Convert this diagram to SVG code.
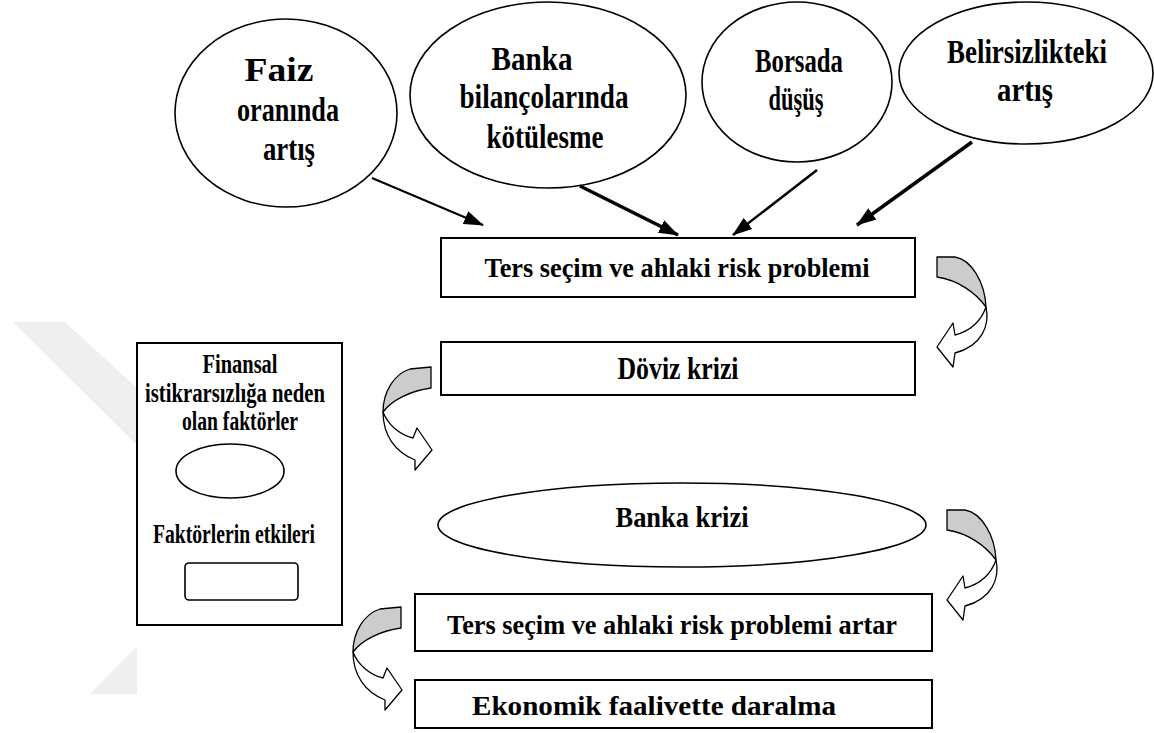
<svg xmlns="http://www.w3.org/2000/svg" xmlns:xlink="http://www.w3.org/1999/xlink" width="1154" height="733" viewBox="0 0 1154 733">
<style>
.t{font-family:"Liberation Serif","Times New Roman",serif;font-weight:bold;fill:#000;text-anchor:middle}
.top{font-size:34px}
.shape{fill:#fff;stroke:#000;stroke-width:1.6}
.box{fill:#fff;stroke:#000;stroke-width:2}
.cg{fill:#cccccc;stroke:#000;stroke-width:1.3;stroke-linejoin:round}
.cw{fill:#fff;stroke:#000;stroke-width:1.3;stroke-linejoin:round}
.arr{stroke:#000;fill:none;marker-end:url(#ah)}
.wm{fill:#efefef}
</style>
<defs>
<marker id="ah" markerUnits="userSpaceOnUse" markerWidth="20" markerHeight="16" viewBox="0 0 20 16" refX="19" refY="8" orient="auto">
<path d="M0,1 L20,8 L0,15 Z" fill="#000"/>
</marker>
<g id="curveL">
<path class="cg" d="M937,257 L955,257 C972,260 985,283 986,307 C976,293 958,280 937,277 Z"/>
<path class="cw" d="M986,307 C990,325 982,346 955,353 L953,367 L937,347 L953,323 L955,335 C970,331 981,321 986,307 Z"/>
</g>
<g id="curveR">
<path class="cg" d="M431,367 L410,369 C394,374 383,392 383,412 C392,400 410,391 431,388 Z"/>
<path class="cw" d="M383,412 C383,435 395,452 415,460 L415,470 L432,450 L417,428 L413,438 C400,435 388,425 383,412 Z"/>
</g>
</defs>
<rect width="1154" height="733" fill="#fff"/>
<g id="watermark">
<polygon class="wm" points="13,322 65,322 137,388 137,445"/>
<polygon class="wm" points="137,646 137,694 90,694"/>
</g>

<g id="n-faiz">
<ellipse class="shape" cx="286" cy="113" rx="111" ry="94"/>
<text class="t top"><tspan x="279" y="81" textLength="69" lengthAdjust="spacingAndGlyphs">Faiz</tspan><tspan x="288" y="121" textLength="102" lengthAdjust="spacingAndGlyphs">oranında</tspan><tspan x="289" y="160" textLength="52" lengthAdjust="spacingAndGlyphs">artış</tspan></text>
</g>
<g id="n-banka">
<ellipse class="shape" cx="548" cy="95" rx="138" ry="93"/>
<text class="t top"><tspan x="532" y="70" textLength="81" lengthAdjust="spacingAndGlyphs">Banka</tspan><tspan x="544" y="108" textLength="169" lengthAdjust="spacingAndGlyphs">bilançolarında</tspan><tspan x="545" y="148" textLength="117" lengthAdjust="spacingAndGlyphs">kötülesme</tspan></text>
</g>
<g id="n-borsa">
<ellipse class="shape" cx="797" cy="82" rx="95" ry="80"/>
<text class="t top"><tspan x="799" y="72" textLength="88" lengthAdjust="spacingAndGlyphs">Borsada</tspan><tspan x="796" y="110" textLength="55" lengthAdjust="spacingAndGlyphs">düşüş</tspan></text>
</g>
<g id="n-belirsiz">
<ellipse class="shape" cx="1026" cy="73" rx="127" ry="71"/>
<text class="t top"><tspan x="1027" y="63" textLength="160" lengthAdjust="spacingAndGlyphs">Belirsizlikteki</tspan><tspan x="1025" y="101" textLength="56" lengthAdjust="spacingAndGlyphs">artış</tspan></text>
</g>

<g id="n-ters">
<rect class="box" x="441" y="238" width="474" height="59"/>
<text class="t" font-size="28" x="677" y="277" textLength="385" lengthAdjust="spacingAndGlyphs">Ters seçim ve ahlaki risk problemi</text>
</g>
<g id="n-doviz">
<rect class="box" x="441" y="342" width="474" height="53"/>
<text class="t" font-size="31" x="678" y="379" textLength="121" lengthAdjust="spacingAndGlyphs">Döviz krizi</text>
</g>
<g id="n-bankakrizi">
<ellipse class="shape" cx="682" cy="525" rx="244" ry="42"/>
<text class="t" font-size="30" x="682" y="527" textLength="133" lengthAdjust="spacingAndGlyphs">Banka krizi</text>
</g>
<g id="n-tersartar">
<rect class="box" x="415" y="594" width="517" height="57"/>
<text class="t" font-size="28" x="672" y="634" textLength="450" lengthAdjust="spacingAndGlyphs">Ters seçim ve ahlaki risk problemi artar</text>
</g>
<g id="n-ekonomik">
<rect class="box" x="415" y="680" width="517" height="48"/>
<text class="t" font-size="28" x="654" y="715" textLength="364" lengthAdjust="spacingAndGlyphs">Ekonomik faalivette daralma</text>
</g>

<g id="legend">
<rect class="box" x="137" y="343" width="205" height="282"/>
<text class="t" font-size="27"><tspan x="240" y="373" textLength="75" lengthAdjust="spacingAndGlyphs">Finansal</tspan><tspan x="235" y="402" textLength="180" lengthAdjust="spacingAndGlyphs">istikrarsızlığa neden</tspan><tspan x="240" y="430" textLength="116" lengthAdjust="spacingAndGlyphs">olan faktörler</tspan></text>
<ellipse class="shape" cx="230" cy="471" rx="54" ry="27"/>
<text class="t" font-size="27" x="234" y="543" textLength="162" lengthAdjust="spacingAndGlyphs">Faktörlerin etkileri</text>
<rect class="shape" x="185" y="563" width="113" height="37" rx="4"/>
</g>

<g id="connectors">
<line class="arr" x1="372" y1="178" x2="483" y2="225" stroke-width="2"/>
<line class="arr" x1="580" y1="186" x2="678" y2="235" stroke-width="3.5"/>
<line class="arr" x1="817" y1="170" x2="733" y2="235" stroke-width="2.5"/>
<line class="arr" x1="972" y1="142" x2="857" y2="225" stroke-width="3.5"/>
<use xlink:href="#curveL"/>
<use xlink:href="#curveR"/>
<use xlink:href="#curveL" transform="translate(10,253)"/>
<use xlink:href="#curveR" transform="translate(-30,240)"/>
</g>
</svg>
